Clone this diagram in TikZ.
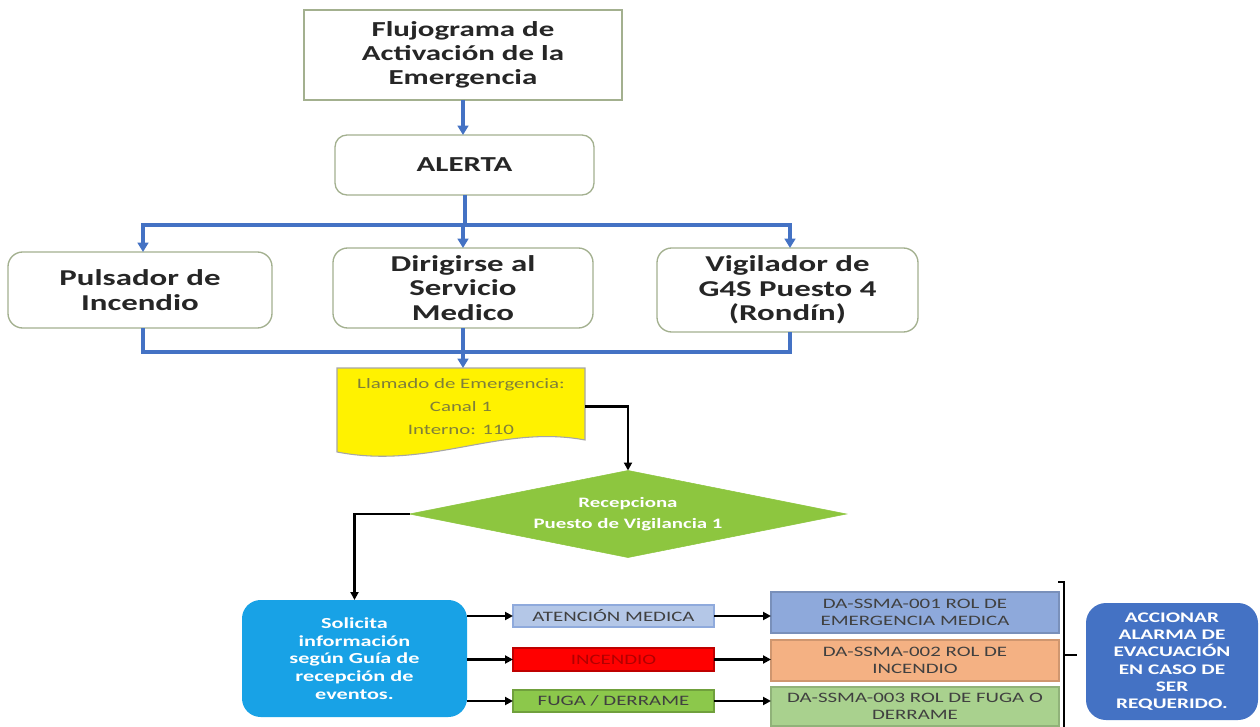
\documentclass[tikz,border=0pt]{standalone}
\usepackage{fontspec}
\setmainfont{Carlito}[FakeStretch=1.45]
\usetikzlibrary{arrows.meta,shapes.geometric}
\definecolor{boxg}{HTML}{A3B08F}
\definecolor{txt}{HTML}{262626}
\definecolor{conblue}{HTML}{4472C4}
\definecolor{ytxt}{HTML}{7F7F3A}
\definecolor{diag}{HTML}{8DC63F}
\definecolor{solb}{HTML}{18A2E6}
\definecolor{s1c}{HTML}{B4C7E7}
\definecolor{s1d}{HTML}{8FAADC}
\definecolor{s3c}{HTML}{8CC84B}
\definecolor{b1c}{HTML}{8EA9DB}
\definecolor{b2c}{HTML}{F4B183}
\definecolor{b3c}{HTML}{A9D18E}
\definecolor{accb}{HTML}{4472C4}
\definecolor{gtx}{HTML}{404040}
\newcommand\fsz[2]{\fontsize{#1}{#2}\selectfont}
\newcommand\bx[7]{\node[#6, inner sep=0pt, outer sep=0pt, minimum width={(#4-#2)*0.75pt}, minimum height={(#5-#3)*0.75pt}] (#1) at ({(#2+#4)/2},{(#3+#5)/2}) {#7};}
\tikzset{
  gbox/.style={draw=boxg, line width=1pt, fill=white, text=txt, align=center},
  bl/.style={draw=conblue, line width=3pt},
  bla/.style={bl, -{Triangle[length=7pt,width=8pt]}},
  kl/.style={draw=black, line width=1.8pt},
  kla/.style={kl, -{Triangle[length=6pt,width=6pt]}},
  smallbox/.style={line width=0.8pt, text=gtx, font=\fsz{10.8}{12}, align=center},
  bigbox/.style={line width=0.8pt, text=gtx, font=\fsz{10.8}{13}, align=center},
}
\begin{document}
\begin{tikzpicture}[x=0.75pt,y=-0.75pt]
\useasboundingbox[fill=white] (0,0) rectangle (1260,727);
% top boxes
\bx{title}{304}{10}{622}{100}{gbox, font=\fsz{16}{18}\bfseries}{Flujograma de\\Activación de la\\Emergencia}
\bx{alerta}{335}{135}{594}{195}{gbox, rounded corners=9pt, font=\fsz{16}{18}\bfseries}{ALERTA}
\bx{pul}{8}{252}{272}{328}{gbox, rounded corners=11pt, font=\fsz{17}{18.5}\bfseries}{Pulsador de\\Incendio}
\bx{dir}{333}{248}{593}{328}{gbox, rounded corners=11pt, font=\fsz{17}{18.5}\bfseries}{Dirigirse al\\Servicio\\Medico}
\bx{vig}{657}{248}{918}{332}{gbox, rounded corners=11pt, font=\fsz{17}{18.5}\bfseries}{Vigilador de\\G4S Puesto 4\\(Rondín)}
% yellow document
\filldraw[fill=yellow, draw=gray!70, line width=0.8pt] (337,368) -- (585,368) -- (585,440) .. controls (500,424) and (430,470) .. (337,452) -- cycle;
\bx{yel}{337}{368}{585}{445}{text=ytxt, font=\fsz{10.8}{17.5}, align=center}{Llamado de Emergencia:\\Canal 1\\Interno: 110}
% diamond
\node[diamond, aspect=5, fill=diag, draw=diag, inner sep=0pt, outer sep=0pt, minimum width=437*0.75pt, minimum height=87*0.75pt, text=white, font=\fsz{10.8}{16}\bfseries, align=center] (dia) at (628,514) {Recepciona\\Puesto de Vigilancia 1};
% solicita
\bx{sol}{242}{600}{467}{717}{fill=solb, rounded corners=14pt, text=white, font=\fsz{11.5}{13.2}\bfseries, align=center}{Solicita\\información\\según Guía de\\recepción de\\eventos.}
% small boxes
\bx{s1}{513}{605}{714}{627}{smallbox, fill=s1c, draw=s1d}{ATENCIÓN MEDICA}
\bx{s2}{513}{648}{714}{671}{smallbox, fill=red, draw=red!75!black, text=red!70!black}{INCENDIO}
\bx{s3}{513}{690}{714}{712}{smallbox, fill=s3c, draw=s3c!80!black}{FUGA / DERRAME}
% big boxes
\bx{b1}{771}{592}{1059}{633}{bigbox, fill=b1c, draw=b1c!85!black}{DA-SSMA-001 ROL DE\\EMERGENCIA MEDICA}
\bx{b2}{771}{640}{1059}{681}{bigbox, fill=b2c, draw=b2c!85!black}{DA-SSMA-002 ROL DE\\INCENDIO}
\bx{b3}{771}{687}{1059}{726}{bigbox, fill=b3c, draw=b3c!85!black}{DA-SSMA-003 ROL DE FUGA O\\DERRAME}
% accionar
\bx{acc}{1086}{603}{1258}{720}{fill=accb, rounded corners=15pt, text=white, font=\fsz{11}{13}\bfseries, align=center}{ACCIONAR\\ALARMA DE\\EVACUACIÓN\\EN CASO DE\\SER\\REQUERIDO.}
% coordinates
\coordinate (jA) at (463,225);
\coordinate (jL) at (143,225);
\coordinate (jR) at (790,225);
\coordinate (kL) at (143,352);
\coordinate (kR) at (790,352);
\coordinate (brL) at (1058,582);
\coordinate (brT) at (1064,582);
\coordinate (brB) at (1064,727);
\coordinate (brM) at (1064,655);
\coordinate (brR) at (1077,655);
% blue connectors
\draw[bla] (title.south) -- (title.south |- alerta.north);
\draw[bl] (alerta.south) -- (alerta.south |- jA);
\draw[bl, line cap=rect] (jL) -- (jR);
\draw[bla] (jL) -- (jL |- pul.north);
\draw[bla] (jA) -- (jA |- dir.north);
\draw[bla] (jR) -- (jR |- vig.north);
\draw[bl] (kL |- pul.south) -- (kL) -- (kR) -- (kR |- vig.south);
\draw[bla] (dir.south) -- (dir.south |- yel.north);
% black connectors
\draw[kla] (yel.east) -| (dia.north);
\draw[kla] (dia.west) -| (sol.north);
\draw[kla] (sol.east |- s1.west) -- (s1.west);
\draw[kla] (sol.east |- s2.west) -- (s2.west);
\draw[kla] (sol.east |- s3.west) -- (s3.west);
\draw[kla] (s1.east) -- (b1.west |- s1.east);
\draw[kla] (s2.east) -- (b2.west |- s2.east);
\draw[kla] (s3.east) -- (b3.west |- s3.east);
% bracket
\draw[kl, line width=1.5pt] (brL) -- (brT) -- (brB);
\draw[kl, line width=1.5pt] (brM) -- (brR);
\end{tikzpicture}
\end{document}
